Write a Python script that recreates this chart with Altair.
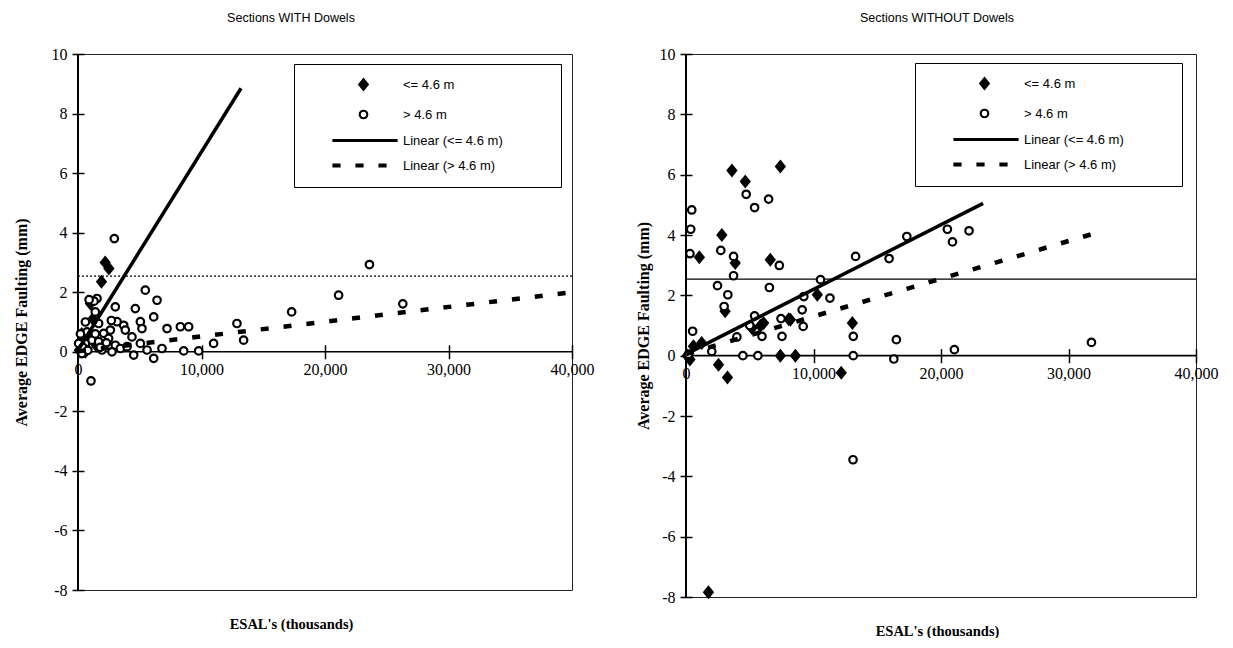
import altair as alt
import pandas as pd

SERIES = ["<= 4.6 m", "> 4.6 m", "Linear (<= 4.6 m)", "Linear (> 4.6 m)"]
X_TICKS = [0, 10000, 20000, 30000, 40000]
Y_TICKS = [-8, -6, -4, -2, 0, 2, 4, 6, 8, 10]
LIMIT_MM = 2.54

# ---- Sections WITH dowels ----
WITH_SMALL_X = [100, 250, 400, 600, 900, 1000, 1200, 1500, 1900, 2200, 2500, 300, 700]
WITH_SMALL_Y = [0.05, 0.35, 0.1, 0.0, 0.5, 1.62, 1.1, 0.2, 2.35, 3.0, 2.8, 0.6, 0.3]
WITH_LARGE_X = [5450, 6400, 1540, 3020, 4640, 6130, 5050, 5180, 7210, 8290, 8960, 12870,
                13410, 10980, 9770, 8560, 6130, 4510, 6800, 5590, 3700, 3160, 3830, 4370,
                2620, 2080, 1670, 1400, 730, 1130, 590, 1670, 2480, 3020, 1940, 2750, 3430,
                3970, 5050, 320, 50, 2940, 1050, 23600, 21100, 17300, 26300, 1300, 900, 200,
                400, 800, 1400, 2300, 600, 2700, 1800]
WITH_LARGE_Y = [2.07, 1.73, 1.79, 1.51, 1.45, 1.17, 1.01, 0.78, 0.78, 0.84, 0.84, 0.95,
                0.39, 0.28, 0.03, 0.03, -0.22, -0.11, 0.11, 0.06, 0.89, 1.01, 0.73, 0.5,
                0.73, 0.62, 0.95, 1.34, 0.67, 0.39, 0.28, 0.34, 0.45, 0.22, 0.06, 0.0, 0.11,
                0.17, 0.28, -0.06, 0.28, 3.8, -0.98, 2.93, 1.9, 1.34, 1.61, 1.7, 1.75, 0.6,
                0.15, 0.05, 0.6, 0.3, 1.0, 1.05, 0.15]
WITH_FIT_SMALL_X = [0, 13200]
WITH_FIT_SMALL_Y = [0.05, 8.85]
WITH_FIT_LARGE_X = [0, 40000]
WITH_FIT_LARGE_Y = [0.02, 2.0]

# ---- Sections WITHOUT dowels ----
WO_SMALL_X = [3600, 4650, 7400, 2810, 1050, 3860, 6610, 3070, 8190, 6090, 5170, 10300,
              13050, 580, 310, 1230, 2550, 3250, 7400, 8580, 12180, 1760, 100, 5830, 8060]
WO_SMALL_Y = [6.14, 5.77, 6.27, 4.0, 3.26, 3.07, 3.18, 1.47, 1.19, 1.08, 0.92, 2.02,
              1.08, 0.31, -0.13, 0.42, -0.3, -0.72, 0.0, 0.0, -0.57, -7.84, 0.0, 0.99, 1.21]
WO_LARGE_X = [450, 370, 310, 4720, 5380, 6480, 2730, 3730, 3730, 7320, 2470, 3280, 2990,
              6540, 10550, 11290, 9240, 9110, 9190, 7450, 7530, 5380, 5960, 3990, 520, 2020,
              4460, 5640, 13120, 13300, 13120, 15930, 17320, 20500, 20900, 22200, 16500,
              16300, 21050, 31800, 13100, 200, 5000]
WO_LARGE_Y = [4.83, 4.19, 3.38, 5.35, 4.91, 5.19, 3.49, 3.29, 2.65, 2.99, 2.32, 2.02, 1.63,
              2.26, 2.52, 1.91, 1.96, 1.52, 0.97, 1.23, 0.64, 1.32, 0.64, 0.62, 0.81, 0.14,
              0.0, 0.0, 0.0, 3.29, 0.64, 3.22, 3.95, 4.19, 3.77, 4.14, 0.53, -0.11, 0.2,
              0.44, -3.45, 0.05, 1.0]
WO_FIT_SMALL_X = [0, 23300]
WO_FIT_SMALL_Y = [0.05, 5.05]
WO_FIT_LARGE_X = [0, 32000]
WO_FIT_LARGE_Y = [0.05, 4.05]

# symbol paths (units scaled by sqrt(size)/2)
DIAMOND = "M0,-1.05L0.85,0L0,1.05L-0.85,0Z"
CIRCLE = "M0.75,0A0.75,0.75,0,1,1,-0.75,0A0.75,0.75,0,1,1,0.75,0Z"
LINE_SYM = "M-6,-0.06H6.6V0.06H-6Z"
DASH_SYM = "M-6,-0.2H-4.8V0.2H-6Z M-1.4,-0.2H-0.2V0.2H-1.4Z M3.2,-0.2H4.4V0.2H3.2Z"
SHAPES = [DIAMOND, CIRCLE, LINE_SYM, DASH_SYM]
FILLS = ["black", "white", "black", "black"]
STROKES = ["black", "black", "black", "black"]

SERIF = "Liberation Serif"
SANS = "Liberation Sans"
PAD_TAIL = "\u00a0" * 12 + "\u200b"


def panel(title, title_dx, sx, sy, lx, ly, fsx, fsy, flx, fly, ref_dash, w, h,
          leg_x, leg_y, title_pad):
    pts = pd.DataFrame({
        "esal": sx + lx,
        "fault": sy + ly,
        "series": [SERIES[0]] * len(sx) + [SERIES[1]] * len(lx),
    })
    fit_s = pd.DataFrame({"esal": fsx, "fault": fsy})
    fit_l = pd.DataFrame({"esal": flx, "fault": fly})

    below = 8 / 18 * h
    xscale = alt.Scale(domain=[0, 40000], nice=False, zero=False)
    yscale = alt.Scale(domain=[-8, 10], nice=False, zero=False)
    xaxis = alt.Axis(values=X_TICKS, format=",d", offset=-(below + 7), tickSize=14,
                     domain=False, grid=False, labelPadding=3, labelFlush=False,
                     title="ESAL's (thousands)", titleY=below + 7 + 34,
                     titleX=w / 2 + title_dx, titleBaseline="middle", titleFontSize=14.5)
    yaxis = alt.Axis(values=Y_TICKS, format="d", offset=-6, tickSize=12, domain=False,
                     grid=False, labelPadding=5, title="Average EDGE Faulting (mm)",
                     titlePadding=title_pad, titleFontSize=16,
                     labelExpr="replace(datum.label, '\u2212', '-')")
    leg = alt.Legend(title=None, orient="none", legendX=leg_x, legendY=leg_y,
                     padding=14, rowPadding=11, strokeColor="black", fillColor="white",
                     symbolSize=100, symbolStrokeWidth=2.2, symbolStrokeColor="black",
                     symbolOpacity=1, symbolOffset=49, labelOffset=33, labelFont=SANS,
                     labelFontSize=13, labelColor="black",
                     labelExpr="datum.label + '" + PAD_TAIL + "'")

    points = alt.Chart(pts).mark_point(size=100, stroke="black", strokeWidth=2.2,
                                       opacity=1, fillOpacity=1).encode(
        x=alt.X("esal:Q", scale=xscale, axis=xaxis),
        y=alt.Y("fault:Q", scale=yscale, axis=yaxis),
        shape=alt.Shape("series:N", scale=alt.Scale(domain=SERIES, range=SHAPES), legend=leg),
        fill=alt.Fill("series:N", scale=alt.Scale(domain=SERIES, range=FILLS), legend=leg),
        stroke=alt.Stroke("series:N", scale=alt.Scale(domain=SERIES, range=STROKES),
                          legend=leg),
    )
    line_s = alt.Chart(fit_s).mark_line(color="black", strokeWidth=3.5).encode(
        x="esal:Q", y="fault:Q")
    line_l = alt.Chart(fit_l).mark_line(color="black", strokeWidth=4.5, strokeDash=[8, 15],
                                        strokeCap="butt").encode(x="esal:Q", y="fault:Q")
    if ref_dash:
        ref = alt.Chart().mark_rule(color="black", strokeWidth=1.3, strokeDash=[2, 2]).encode(
            y=alt.datum(LIMIT_MM))
    else:
        ref = alt.Chart().mark_rule(color="black", strokeWidth=1.2).encode(
            y=alt.datum(LIMIT_MM))
    zero = alt.Chart().mark_rule(color="black", strokeWidth=1.6).encode(y=alt.datum(0))
    edge = alt.Chart().mark_rule(color="black", strokeWidth=2).encode(x=alt.datum(0))

    return alt.layer(ref, zero, edge, points, line_s, line_l).properties(
        width=w, height=h,
        title=alt.TitleParams(title, anchor="middle", dx=title_dx, offset=22, font=SANS,
                              fontSize=12.5, fontWeight="normal", color="black"),
    )


left = panel("Sections WITH Dowels", -34, WITH_SMALL_X, WITH_SMALL_Y, WITH_LARGE_X,
             WITH_LARGE_Y, WITH_FIT_SMALL_X, WITH_FIT_SMALL_Y, WITH_FIT_LARGE_X,
             WITH_FIT_LARGE_Y, True, 494, 536, 216, 10, 22)
right = panel("Sections WITHOUT Dowels", -4, WO_SMALL_X, WO_SMALL_Y, WO_LARGE_X, WO_LARGE_Y,
              WO_FIT_SMALL_X, WO_FIT_SMALL_Y, WO_FIT_LARGE_X, WO_FIT_LARGE_Y, False,
              510, 543, 229, 9, 8)

chart = alt.hconcat(left, right, spacing=39).resolve_scale(
    shape="independent", fill="independent", stroke="independent"
).resolve_legend(shape="independent", fill="independent", stroke="independent").configure(
    padding={"left": 12, "top": 11, "right": 0, "bottom": 0}
).configure_view(stroke="#222", strokeWidth=1).configure_axis(
    labelFont=SERIF, labelFontSize=16, labelColor="black", titleFont=SERIF,
    titleFontWeight="bold", titleColor="black", tickColor="black", tickWidth=1.5
)

chart.save("out.html", embed_options={"renderer": "svg", "actions": False})
